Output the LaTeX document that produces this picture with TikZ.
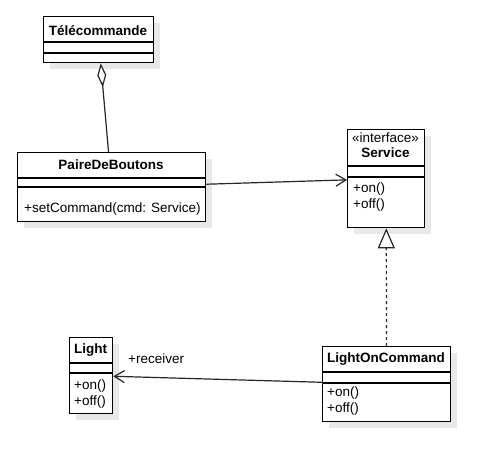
\documentclass[tikz,border=0pt]{standalone}
\usepackage{fontspec}
\setmainfont{Liberation Sans}
\usetikzlibrary{arrows.meta}
\begin{document}
\begin{tikzpicture}[x=1pt,y=-1pt,
  font=\fontsize{13.5}{16}\selectfont,
  classbox/.style={draw=black, line width=1.3pt, fill=white, inner sep=0pt, anchor=north west},
  shadowbox/.style={fill=black!9, draw=none},
  sepline/.style={line width=1.3pt},
  txt/.style={inner sep=0pt, anchor=base west},
  ttl/.style={inner sep=0pt, anchor=base, font=\fontsize{13.5}{16}\selectfont\bfseries},
  stereo/.style={inner sep=0pt, anchor=base},
  conn/.style={line width=1.2pt, draw=black!85}]
\useasboundingbox (0,0) rectangle (488,450);
\fill[white] (0,0) rectangle (488,450);
% shadows
\fill[shadowbox] (50,23) rectangle (160,69);
\fill[shadowbox] (24,159) rectangle (212,228);
\fill[shadowbox] (354,136) rectangle (431,234);
\fill[shadowbox] (76,344) rectangle (119,420);
\fill[shadowbox] (329,353) rectangle (457,428);
% class boxes
\node[classbox, minimum width=110pt, minimum height=46pt] (tele) at (43,16) {};
\node[classbox, minimum width=188pt, minimum height=69pt] (paire) at (17,152) {};
\node[classbox, minimum width=77pt, minimum height=98pt] (service) at (347,129) {};
\node[classbox, minimum width=43pt, minimum height=76pt] (light) at (69,337) {};
\node[classbox, minimum width=128pt, minimum height=75pt] (loc) at (322,346) {};
% compartments
\draw[sepline] (tele.west |- 0,42) -- (tele.east |- 0,42);
\draw[sepline] (tele.west |- 0,53) -- (tele.east |- 0,53);
\draw[sepline] (paire.west |- 0,178) -- (paire.east |- 0,178);
\draw[sepline] (paire.west |- 0,187) -- (paire.east |- 0,187);
\draw[sepline] (service.west |- 0,166) -- (service.east |- 0,166);
\draw[sepline] (service.west |- 0,177) -- (service.east |- 0,177);
\draw[sepline] (light.west |- 0,363) -- (light.east |- 0,363);
\draw[sepline] (light.west |- 0,373) -- (light.east |- 0,373);
\draw[sepline] (loc.west |- 0,372) -- (loc.east |- 0,372);
\draw[sepline] (loc.west |- 0,383) -- (loc.east |- 0,383);
% texts
\node[ttl] (teleT) at (98,35) {Télécommande};
\node[ttl] (paireT) at (111,169) {PaireDeBoutons};
\node[txt] (paireM) at (24,212) {+setCommand(cmd: Service)};
\node[stereo] (serviceS) at (385.5,142) {«interface»};
\node[ttl] (serviceT) at (385.5,157) {Service};
\node[txt] (serviceM1) at (353,192) {+on()};
\node[txt] (serviceM2) at (353,208) {+off()};
\node[ttl] (lightT) at (90.5,353) {Light};
\node[txt] (lightM1) at (74,389) {+on()};
\node[txt] (lightM2) at (74,405) {+off()};
\node[ttl] (locT) at (386,362) {LightOnCommand};
\node[txt] (locM1) at (327,396) {+on()};
\node[txt] (locM2) at (327,412) {+off()};
% connectors
\draw[conn, {Diamond[open, fill=white, length=24pt, width=9pt]}-] (tele) -- (paire);
\draw[conn, -{Straight Barb[length=10pt, width=12pt]}] (paire) -- (service);
\draw[conn, -{Straight Barb[length=10pt, width=12pt]}] (loc) -- (light);
\draw[conn, dash pattern=on 3pt off 3pt, -{Triangle[open, fill=white, length=20pt, width=17pt]}] (loc) -- (service);
\node[txt] (recv) at (128,363) {+receiver};
\end{tikzpicture}
\end{document}
